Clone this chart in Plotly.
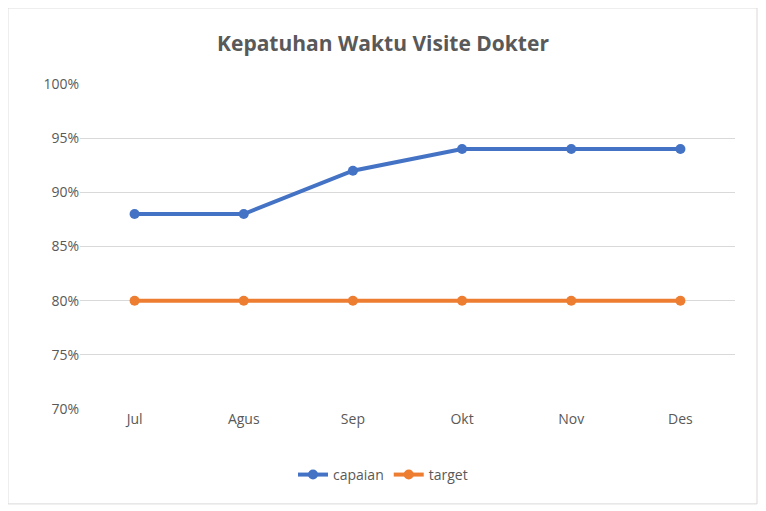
import plotly.graph_objects as go

months = ["Jul", "Agus", "Sep", "Okt", "Nov", "Des"]
capaian = [0.88, 0.88, 0.92, 0.94, 0.94, 0.94]
target = [0.80, 0.80, 0.80, 0.80, 0.80, 0.80]
yticks = [0.70, 0.75, 0.80, 0.85, 0.90, 0.95, 1.00]

fig = go.Figure()
fig.add_trace(go.Scatter(x=months, y=capaian, name="capaian", mode="lines+markers",
                         line=dict(color="#4472C4", width=4), marker=dict(size=10, color="#4472C4")))
fig.add_trace(go.Scatter(x=months, y=target, name="target", mode="lines+markers",
                         line=dict(color="#ED7D31", width=4), marker=dict(size=10, color="#ED7D31")))

fig.update_layout(
    width=766, height=511,
    margin=dict(l=72, r=39, t=76, b=110),
    paper_bgcolor="white", plot_bgcolor="white",
    font=dict(family="Open Sans", color="#595959", size=14),
    title=dict(text="<b>Kepatuhan Waktu Visite Dokter</b>", xref="paper", x=0.4626, xanchor="center",
               y=0.93, yanchor="middle", font=dict(size=21, color="#595959")),
    xaxis=dict(showgrid=False, showline=False, ticks="", range=[-0.5, 5.5]),
    yaxis=dict(range=[0.70, 1.00], tickvals=yticks, tickformat=".0%", ticksuffix="  ",
               showgrid=True, gridcolor="#D9D9D9", gridwidth=1, zeroline=False, ticks=""),
    legend=dict(orientation="h", x=0.4626, xanchor="center", y=-0.203, yanchor="middle",
                font=dict(size=14, color="#595959")),
    shapes=[dict(type="rect", xref="paper", yref="paper", x0=-0.11, x1=1.0336, y0=-0.292, y1=1.234,
                 line=dict(color="#D9D9D9", width=1))],
)
fig.write_html("out.html")
